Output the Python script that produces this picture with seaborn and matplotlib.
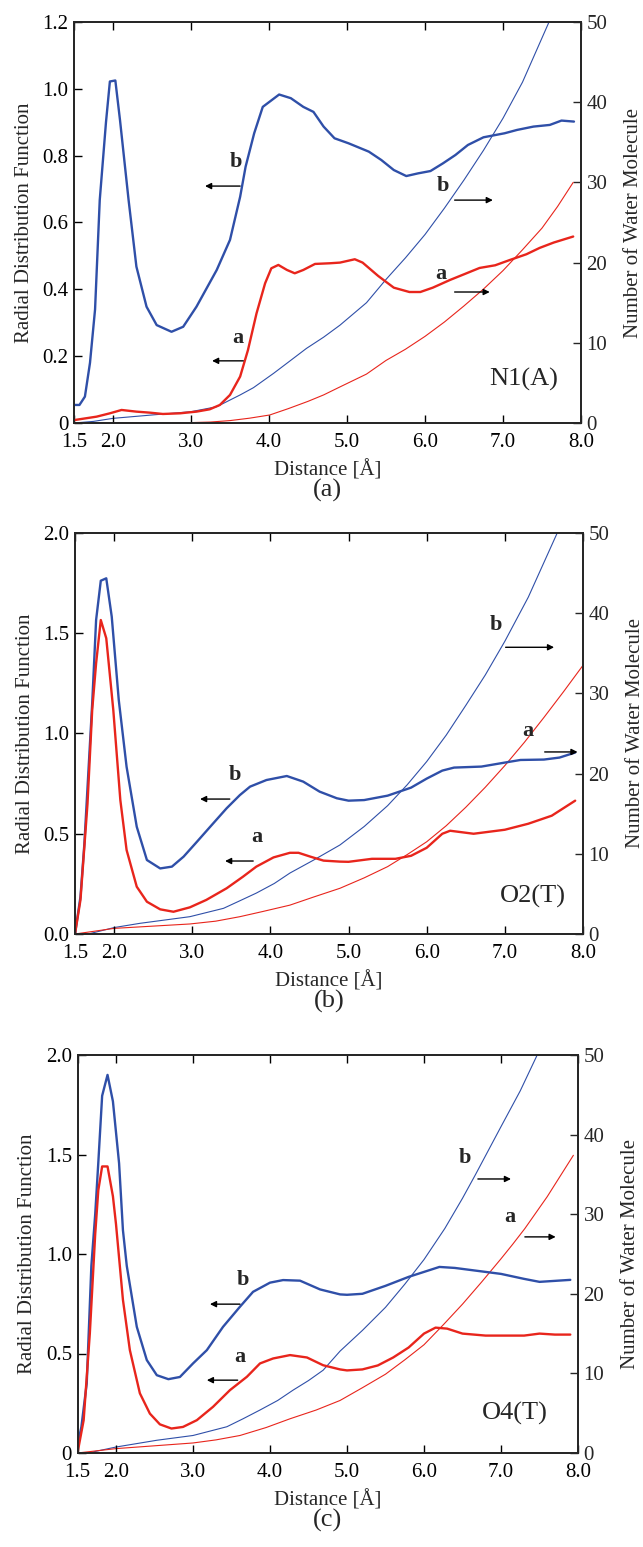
import matplotlib
matplotlib.use("Agg")
import matplotlib.pyplot as plt
import seaborn as sns

# ---------------- data ----------------
# Panel (a) N1(A)
a_rdf_b_x = [1.51, 1.57, 1.64, 1.705, 1.77, 1.83, 1.91, 1.96, 2.03, 2.09, 2.2, 2.30, 2.43, 2.56, 2.75, 2.90, 3.07, 3.33, 3.5, 3.63, 3.70, 3.81, 3.92, 4.13, 4.28, 4.44, 4.57, 4.70, 4.84, 5.02, 5.28, 5.44, 5.60, 5.76, 5.91, 6.07, 6.23, 6.39, 6.55, 6.75, 7.02, 7.18, 7.39, 7.60, 7.75, 7.91]
a_rdf_b_y = [0.054, 0.054, 0.079, 0.18, 0.34, 0.667, 0.9, 1.022, 1.025, 0.906, 0.667, 0.468, 0.348, 0.293, 0.273, 0.288, 0.348, 0.458, 0.548, 0.677, 0.767, 0.867, 0.946, 0.983, 0.972, 0.946, 0.931, 0.887, 0.852, 0.837, 0.812, 0.787, 0.757, 0.739, 0.747, 0.754, 0.777, 0.802, 0.832, 0.855, 0.867, 0.877, 0.887, 0.892, 0.905, 0.902]
a_rdf_a_x = [1.51, 1.79, 1.96, 2.11, 2.30, 2.47, 2.64, 2.86, 3.07, 3.24, 3.37, 3.5, 3.63, 3.73, 3.84, 3.95, 4.03, 4.12, 4.23, 4.33, 4.44, 4.59, 4.78, 4.91, 5.1, 5.2, 5.4, 5.6, 5.8, 5.94, 6.1, 6.32, 6.5, 6.7, 6.9, 7.09, 7.3, 7.47, 7.65, 7.9]
a_rdf_a_y = [0.009, 0.019, 0.029, 0.039, 0.034, 0.031, 0.027, 0.029, 0.034, 0.041, 0.054, 0.084, 0.139, 0.218, 0.328, 0.418, 0.463, 0.473, 0.458, 0.448, 0.458, 0.476, 0.478, 0.48, 0.49, 0.48, 0.44, 0.405, 0.392, 0.392, 0.405, 0.428, 0.445, 0.464, 0.472, 0.488, 0.505, 0.524, 0.54, 0.558]
a_n_b_x = [1.5, 1.75, 2.0, 2.5, 3.0, 3.33, 3.63, 3.8, 4.06, 4.25, 4.48, 4.7, 4.91, 5.25, 5.5, 5.75, 6.0, 6.25, 6.5, 6.75, 7.0, 7.25, 7.59, 7.8, 8.0]
a_n_b_y = [0, 0.2, 0.58, 1.0, 1.41, 2.03, 3.5, 4.4, 6.2, 7.6, 9.3, 10.7, 12.2, 15.0, 17.9, 20.6, 23.5, 26.8, 30.3, 34.0, 38.0, 42.5, 50.0, 54.5, 59.0]
a_n_a_x = [1.5, 2.5, 3.0, 3.25, 3.5, 3.75, 4.01, 4.25, 4.5, 4.7, 4.91, 5.25, 5.5, 5.75, 6.0, 6.25, 6.5, 6.75, 7.0, 7.25, 7.5, 7.7, 7.9]
a_n_a_y = [0, 0.02, 0.05, 0.12, 0.3, 0.6, 1.0, 1.8, 2.7, 3.5, 4.5, 6.1, 7.8, 9.2, 10.8, 12.6, 14.6, 16.7, 19.0, 21.6, 24.3, 27.0, 30.0]

# Panel (b) O2(T)
b_rdf_b_x = [1.5, 1.57, 1.62, 1.67, 1.72, 1.77, 1.83, 1.90, 1.97, 2.06, 2.16, 2.29, 2.42, 2.59, 2.74, 2.89, 3.06, 3.23, 3.44, 3.61, 3.74, 3.95, 4.21, 4.42, 4.63, 4.85, 5.0, 5.2, 5.5, 5.8, 6.0, 6.2, 6.35, 6.7, 7.0, 7.2, 7.5, 7.7, 7.9]
b_rdf_b_y = [0.0, 0.186, 0.45, 0.8, 1.15, 1.566, 1.762, 1.774, 1.583, 1.167, 0.834, 0.535, 0.369, 0.327, 0.336, 0.386, 0.46, 0.535, 0.627, 0.693, 0.735, 0.768, 0.788, 0.76, 0.71, 0.677, 0.665, 0.668, 0.69, 0.73, 0.775, 0.815, 0.83, 0.835, 0.855, 0.868, 0.87, 0.88, 0.905]
b_rdf_a_x = [1.5, 1.57, 1.66, 1.72, 1.77, 1.83, 1.90, 1.99, 2.08, 2.16, 2.29, 2.42, 2.59, 2.76, 2.97, 3.18, 3.44, 3.65, 3.82, 4.04, 4.25, 4.36, 4.51, 4.68, 4.89, 5.0, 5.3, 5.6, 5.8, 6.0, 6.2, 6.3, 6.4, 6.6, 7.0, 7.3, 7.6, 7.9]
b_rdf_a_y = [0.0, 0.17, 0.65, 1.117, 1.35, 1.566, 1.475, 1.117, 0.668, 0.419, 0.236, 0.161, 0.123, 0.111, 0.133, 0.17, 0.228, 0.286, 0.336, 0.382, 0.405, 0.405, 0.386, 0.366, 0.361, 0.36, 0.375, 0.375, 0.39, 0.43, 0.5, 0.515, 0.51, 0.5, 0.52, 0.55, 0.59, 0.665]
b_n_b_x = [1.5, 1.69, 2.0, 2.33, 2.97, 3.40, 3.6, 3.82, 4.05, 4.25, 4.55, 4.89, 5.2, 5.5, 5.75, 6.0, 6.25, 6.5, 6.75, 7.0, 7.3, 7.67, 7.85, 8.0]
b_n_b_y = [0, 0.05, 0.8, 1.33, 2.16, 3.2, 4.1, 5.1, 6.3, 7.6, 9.2, 11.1, 13.4, 16.0, 18.6, 21.5, 24.8, 28.5, 32.3, 36.5, 42.0, 50.0, 53.5, 56.5]
b_n_a_x = [1.5, 2.0, 2.97, 3.3, 3.61, 3.9, 4.25, 4.55, 4.89, 5.2, 5.5, 5.75, 6.0, 6.25, 6.5, 6.75, 7.0, 7.25, 7.5, 7.75, 8.0]
b_n_a_y = [0, 0.7, 1.25, 1.6, 2.16, 2.8, 3.6, 4.6, 5.7, 7.0, 8.4, 9.9, 11.5, 13.5, 15.8, 18.3, 21.0, 23.9, 27.0, 30.2, 33.5]

# Panel (c) O4(T)
c_rdf_b_x = [1.5, 1.55, 1.62, 1.68, 1.73, 1.77, 1.82, 1.89, 1.96, 2.04, 2.09, 2.14, 2.27, 2.40, 2.53, 2.68, 2.83, 3.0, 3.18, 3.39, 3.61, 3.78, 4.0, 4.17, 4.39, 4.65, 4.91, 5.0, 5.2, 5.5, 5.8, 6.0, 6.2, 6.4, 6.7, 7.0, 7.3, 7.5, 7.7, 7.9]
c_rdf_b_y = [0.04, 0.13, 0.35, 0.94, 1.2, 1.458, 1.795, 1.90, 1.767, 1.456, 1.12, 0.94, 0.634, 0.467, 0.391, 0.371, 0.382, 0.45, 0.517, 0.634, 0.735, 0.81, 0.856, 0.869, 0.866, 0.822, 0.797, 0.795, 0.80, 0.84, 0.885, 0.91, 0.935, 0.93, 0.915, 0.9, 0.875, 0.86, 0.865, 0.87]
c_rdf_a_x = [1.5, 1.58, 1.66, 1.73, 1.77, 1.82, 1.89, 1.96, 2.0, 2.09, 2.18, 2.31, 2.44, 2.57, 2.72, 2.87, 3.05, 3.26, 3.48, 3.70, 3.87, 4.04, 4.26, 4.48, 4.69, 4.91, 5.0, 5.2, 5.4, 5.6, 5.8, 6.0, 6.15, 6.3, 6.5, 6.8, 7.0, 7.3, 7.5, 7.7, 7.9]
c_rdf_a_y = [0.0, 0.165, 0.6, 1.1, 1.32, 1.44, 1.44, 1.29, 1.15, 0.77, 0.517, 0.3, 0.198, 0.144, 0.123, 0.131, 0.165, 0.232, 0.316, 0.383, 0.45, 0.475, 0.492, 0.48, 0.441, 0.42, 0.415, 0.42, 0.44, 0.48, 0.53, 0.6, 0.63, 0.625, 0.6, 0.59, 0.59, 0.59, 0.6, 0.595, 0.595]
c_n_b_x = [1.5, 1.66, 2.0, 2.53, 3.0, 3.44, 3.65, 3.87, 4.1, 4.30, 4.5, 4.69, 4.91, 5.2, 5.5, 5.75, 6.0, 6.27, 6.5, 6.67, 7.0, 7.25, 7.47, 7.75, 8.0]
c_n_b_y = [0, 0.05, 0.75, 1.6, 2.2, 3.3, 4.3, 5.4, 6.6, 7.9, 9.1, 10.4, 12.8, 15.4, 18.3, 21.2, 24.3, 28.2, 32.0, 35.0, 41.0, 45.5, 50.0, 55.5, 61.0]
c_n_a_x = [1.5, 2.0, 3.0, 3.3, 3.61, 3.95, 4.26, 4.6, 4.91, 5.2, 5.5, 5.75, 6.0, 6.25, 6.5, 6.75, 7.0, 7.15, 7.31, 7.6, 7.94]
c_n_a_y = [0, 0.55, 1.26, 1.65, 2.2, 3.2, 4.3, 5.4, 6.6, 8.2, 9.9, 11.7, 13.6, 16.1, 18.7, 21.5, 24.4, 26.2, 28.2, 32.2, 37.4]

x_ticks = [1.5, 2.0, 3.0, 4.0, 5.0, 6.0, 7.0, 8.0]
x_ticklabels = ["1.5", "2.0", "3.0", "4.0", "5.0", "6.0", "7.0", "8.0"]
n_ticks = [0, 10, 20, 30, 40, 50]
panel_names = ["N1(A)", "O2(T)", "O4(T)"]
panel_tags = ["(a)", "(b)", "(c)"]
y_ticks = [[0, 0.2, 0.4, 0.6, 0.8, 1.0, 1.2], [0, 0.5, 1.0, 1.5, 2.0], [0, 0.5, 1.0, 1.5, 2.0]]
y_ticklabels = [["0", "0.2", "0.4", "0.6", "0.8", "1.0", "1.2"],
                ["0.0", "0.5", "1.0", "1.5", "2.0"],
                ["0", "0.5", "1.0", "1.5", "2.0"]]
y_max = [1.2, 2.0, 2.0]

# ---------------- style ----------------
sns.set_style("ticks")
plt.rcParams["font.family"] = ["Liberation Serif", "DejaVu Serif"]

BLUE = "#2f4fa8"
RED = "#e8251c"
FS_TICK = 15
FS_LAB = 15

fig = plt.figure(figsize=(6.43, 15.47), dpi=100)
W, H = 643.0, 1547.0
# axes boxes in pixels: left, top, right, bottom
boxes = [(74, 22, 581, 423), (75, 533, 583, 934), (77.5, 1055, 578, 1453)]

panels = [
    (a_rdf_b_x, a_rdf_b_y, a_rdf_a_x, a_rdf_a_y, a_n_b_x, a_n_b_y, a_n_a_x, a_n_a_y),
    (b_rdf_b_x, b_rdf_b_y, b_rdf_a_x, b_rdf_a_y, b_n_b_x, b_n_b_y, b_n_a_x, b_n_a_y),
    (c_rdf_b_x, c_rdf_b_y, c_rdf_a_x, c_rdf_a_y, c_n_b_x, c_n_b_y, c_n_a_x, c_n_a_y),
]

# annotation positions (data coords of the RDF axis)
ann = [
    dict(lb=(3.57, 0.75), lbarr=((3.63, 0.709), (3.18, 0.709)),
         la=(3.60, 0.225), laarr=((3.67, 0.186), (3.27, 0.186)),
         rb=(6.23, 0.68), rbarr=((6.38, 0.667), (6.87, 0.667)),
         ra=(6.20, 0.415), raarr=((6.38, 0.392), (6.83, 0.392)),
         name=(7.26, 0.13)),
    dict(lb=(3.55, 0.745), lbarr=((3.48, 0.673), (3.10, 0.673)),
         la=(3.83, 0.435), laarr=((3.78, 0.364), (3.42, 0.364)),
         rb=(6.88, 1.49), rbarr=((7.01, 1.43), (7.63, 1.43)),
         ra=(7.29, 0.963), raarr=((7.51, 0.908), (7.93, 0.908)),
         name=(7.36, 0.185)),
    dict(lb=(3.65, 0.82), lbarr=((3.61, 0.748), (3.22, 0.748)),
         la=(3.61, 0.432), laarr=((3.58, 0.366), (3.18, 0.366)),
         rb=(6.53, 1.433), rbarr=((6.70, 1.377), (7.13, 1.377)),
         ra=(7.12, 1.135), raarr=((7.31, 1.086), (7.71, 1.086)),
         name=(7.18, 0.2)),
]

for i, (box, data) in enumerate(zip(boxes, panels)):
    l, t, r, b = box
    ax = fig.add_axes([l / W, 1 - b / H, (r - l) / W, (b - t) / H])
    ax2 = ax.twinx()
    rbx, rby, rax, ray, nbx, nby, nax, nay = data

    sns.lineplot(x=nbx, y=nby, ax=ax2, color=BLUE, lw=0.8, sort=False, estimator=None)
    sns.lineplot(x=nax, y=nay, ax=ax2, color=RED, lw=0.8, sort=False, estimator=None)
    sns.lineplot(x=rbx, y=rby, ax=ax, color=BLUE, lw=1.7, sort=False, estimator=None)
    sns.lineplot(x=rax, y=ray, ax=ax, color=RED, lw=1.7, sort=False, estimator=None)
    ax.set_zorder(ax2.get_zorder() + 1)
    ax.patch.set_visible(False)

    ax.set_xlim(1.5, 8.0)
    ax.set_ylim(0, y_max[i])
    ax2.set_ylim(0, 50)
    ax.set_xticks(x_ticks)
    ax.set_xticklabels(x_ticklabels, fontsize=FS_TICK)
    ax.set_yticks(y_ticks[i])
    ax.set_yticklabels(y_ticklabels[i], fontsize=FS_TICK)
    ax2.set_yticks(n_ticks)
    ax2.set_yticklabels([str(v) for v in n_ticks], fontsize=FS_TICK)

    ax.tick_params(axis="both", direction="in", length=6, width=1, top=True, right=False,
                   pad=4, colors="black")
    ax.tick_params(axis="x", pad=7)
    ax2.tick_params(axis="y", direction="in", length=6, width=1, pad=4)
    for sp in ax.spines.values():
        sp.set_linewidth(1.3)
    for sp in ax2.spines.values():
        sp.set_linewidth(1.3)

    ax.set_xlabel("Distance [Å]", fontsize=FS_LAB, labelpad=6)
    ax.set_ylabel("Radial Distribution Function", fontsize=FS_LAB, labelpad=6)
    ax2.set_ylabel("Number of Water Molecule", fontsize=FS_LAB, labelpad=12)

    A = ann[i]
    arrow_kw = dict(arrowstyle="-|>", color="black", lw=1.0, mutation_scale=9,
                    shrinkA=0, shrinkB=0)
    for key_t, key_a, letter in [("lb", "lbarr", "b"), ("la", "laarr", "a"),
                                 ("rb", "rbarr", "b"), ("ra", "raarr", "a")]:
        ax.text(A[key_t][0], A[key_t][1], letter, fontsize=16, fontweight="bold",
                ha="center", va="bottom")
        tail, head = A[key_a]
        ax.annotate("", xy=head, xytext=tail, arrowprops=arrow_kw)
    ax.text(A["name"][0], A["name"][1], panel_names[i], fontsize=19,
            ha="center", va="center")

    fig.text((l + r) / 2 / W, 1 - (b + 67) / H, panel_tags[i], fontsize=19,
             ha="center", va="center")

fig.savefig("out.png", dpi=100)
